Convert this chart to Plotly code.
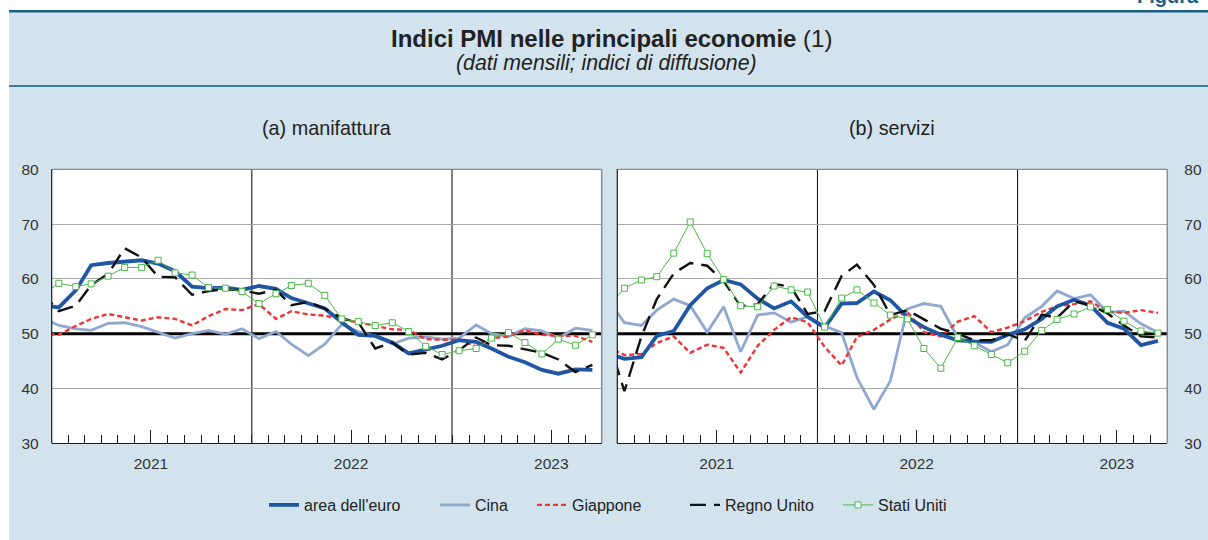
import pandas as pd
import plotly.graph_objects as go

W, H = 1208, 540

# ---------------- data (Dec 2020 .. Sep 2023, monthly) ----------------
months = pd.date_range("2020-12-01", "2023-09-01", freq="MS") + pd.Timedelta(days=13)

# (a) manifattura
euro_man = [55.2, 54.8, 57.9, 62.5, 62.9, 63.1, 63.4, 62.8, 61.4, 58.6, 58.3, 58.4, 58.0,
            58.7, 58.2, 56.5, 55.5, 54.6, 52.1, 49.8, 49.6, 48.4, 46.4, 47.1, 47.8,
            48.8, 48.5, 47.3, 45.8, 44.8, 43.4, 42.7, 43.5, 43.4]
cina_man = [53.0, 51.5, 50.9, 50.6, 51.9, 52.0, 51.3, 50.3, 49.2, 50.0, 50.6, 49.9, 50.9,
            49.1, 50.4, 48.1, 46.0, 48.1, 51.7, 50.4, 49.5, 48.1, 49.2, 49.4, 49.0,
            49.2, 51.6, 50.0, 49.5, 50.9, 50.5, 49.2, 51.0, 50.6]
giap_man = [50.0, 49.8, 51.4, 52.7, 53.6, 53.0, 52.4, 53.0, 52.7, 51.5, 53.2, 54.5, 54.3,
            55.4, 52.7, 54.1, 53.5, 53.3, 52.7, 52.1, 51.5, 50.8, 50.7, 49.0, 48.9,
            48.9, 47.7, 49.2, 49.5, 50.6, 49.8, 49.6, 49.6, 48.5]
uk_man = [57.5, 54.1, 55.1, 58.9, 60.9, 65.6, 63.9, 60.4, 60.3, 57.1, 57.8, 58.1, 57.9,
          57.3, 58.0, 55.2, 55.8, 54.6, 52.8, 52.1, 47.3, 48.4, 46.2, 46.5, 45.3,
          47.0, 49.3, 47.9, 47.8, 47.1, 46.5, 45.3, 43.0, 44.3]
usa_man = [57.1, 59.2, 58.6, 59.1, 60.5, 62.1, 62.1, 63.4, 61.1, 60.7, 58.4, 58.3, 57.7,
           55.5, 57.3, 58.8, 59.2, 57.0, 52.7, 52.2, 51.5, 52.0, 50.4, 47.7, 46.2,
           46.9, 47.3, 49.2, 50.2, 48.4, 46.3, 49.0, 47.9, 49.8]

# (b) servizi
euro_ser = [46.4, 45.4, 45.7, 49.6, 50.5, 55.2, 58.3, 59.8, 59.0, 56.4, 54.6, 55.9, 53.1,
            51.1, 55.5, 55.6, 57.7, 56.1, 53.0, 51.2, 49.8, 48.8, 48.6, 48.5, 49.8,
            50.8, 52.7, 55.0, 56.2, 55.1, 52.0, 50.9, 47.9, 48.7]
cina_ser = [56.3, 52.0, 51.5, 54.3, 56.3, 55.1, 50.3, 54.9, 46.7, 53.4, 53.8, 52.1, 53.1,
            51.4, 50.2, 42.0, 36.2, 41.4, 54.5, 55.5, 55.0, 49.3, 48.4, 46.7, 48.0,
            52.9, 55.0, 57.8, 56.4, 57.1, 53.9, 54.1, 51.8, 50.2]
giap_ser = [47.7, 46.1, 46.3, 48.3, 49.5, 46.5, 48.0, 47.4, 42.9, 47.8, 50.7, 53.0, 52.1,
            47.6, 44.2, 49.4, 50.7, 52.6, 54.0, 50.3, 49.5, 52.2, 53.2, 50.3, 51.1,
            52.3, 54.0, 55.0, 55.4, 55.9, 54.0, 53.8, 54.3, 53.8]
uk_ser = [49.4, 39.5, 49.5, 56.3, 61.0, 62.9, 62.4, 59.6, 55.0, 55.4, 59.1, 58.5, 53.6,
          54.1, 60.5, 62.6, 58.9, 53.4, 54.3, 52.6, 50.9, 50.0, 48.8, 48.8, 49.9,
          48.7, 53.5, 52.9, 55.9, 55.2, 53.7, 51.5, 49.5, 49.3]
usa_ser = [54.8, 58.3, 59.8, 60.4, 64.7, 70.4, 64.6, 59.9, 55.1, 54.9, 58.7, 58.0, 57.6,
           51.2, 56.5, 58.0, 55.6, 53.4, 52.7, 47.3, 43.7, 49.3, 47.8, 46.2, 44.7,
           46.8, 50.6, 52.6, 53.6, 54.9, 54.4, 52.3, 50.5, 50.1]

series_names = ["area dell'euro", "Cina", "Giappone", "Regno Unito", "Stati Uniti"]
panel_titles = ["(a) manifattura", "(b) servizi"]
year_labels = ["2021", "2022", "2023"]
year_mid = ["2021-07-01", "2022-07-01", "2023-07-01"]
year_bounds = ["2022-01-01", "2023-01-01"]
y_ticks = [30, 40, 50, 60, 70, 80]
y_grid = [40, 60, 70, 80]

panels = [
    {"euro": euro_man, "cina": cina_man, "giap": giap_man, "uk": uk_man, "usa": usa_man},
    {"euro": euro_ser, "cina": cina_ser, "giap": giap_ser, "uk": uk_ser, "usa": usa_ser},
]

# ---------------- styles ----------------
FONT = "Liberation Sans, Arial, Helvetica, sans-serif"
BG = "#D2E3EE"
TXT = "#222222"
C_EURO = "#1F57A4"
C_CINA = "#8EA8CF"
C_GIAP = "#EE3535"
C_UK = "#111111"
C_USA = "#4CB848"

styles = {
    "cina": dict(name=series_names[1], line=dict(color=C_CINA, width=2.8), mode="lines", legend="legend2"),
    "giap": dict(name=series_names[2], line=dict(color=C_GIAP, width=2.4, dash="5px,3px"), mode="lines", legend="legend3"),
    "euro": dict(name=series_names[0], line=dict(color=C_EURO, width=3.8), mode="lines", legend="legend"),
    "uk": dict(name=series_names[3], line=dict(color=C_UK, width=2.4, dash="16px,8px"), mode="lines", legend="legend4"),
    "usa": dict(name=series_names[4], line=dict(color=C_USA, width=1),
                mode="lines+markers",
                marker=dict(symbol="square", size=6, color="white", line=dict(color=C_USA, width=1)),
                legend="legend5"),
}
draw_order = ["cina", "giap", "euro", "uk", "usa"]

fig = go.Figure()

xdom = [[51.7 / W, 601.7 / W], [617.3 / W, 1167.3 / W]]
ydom = [(H - 443.3) / H, (H - 169.3) / H]

for p, data in enumerate(panels):
    xa = "x" if p == 0 else "x2"
    ya = "y" if p == 0 else "y2"
    for key in draw_order:
        st = dict(styles[key])
        fig.add_trace(go.Scatter(x=months, y=data[key], xaxis=xa, yaxis=ya,
                                 showlegend=(p == 0), hoverinfo="skip", **st))

axis_common_x = dict(
    type="date", range=["2021-01-01", "2023-10-01"],
    tickmode="array", tickvals=year_mid, ticktext=year_labels,
    ticks="inside", ticklen=13, tickwidth=1, tickcolor="#1a1a1a",
    showgrid=False, zeroline=False,
    showline=True, linecolor="#1a1a1a", linewidth=1,
    minor=dict(tickmode="linear", tick0="2021-01-01", dtick="M1", ticks="inside",
               ticklen=8, tickwidth=1, tickcolor="#1a1a1a", showgrid=False),
    tickfont=dict(family=FONT, size=15.5, color="#333333"),
    ticklabelstandoff=6, fixedrange=True, automargin=False,
)
axis_common_y = dict(
    range=[30, 80], tickmode="array", tickvals=y_ticks,
    ticks="", showgrid=False,
    minor=dict(tickmode="array", tickvals=y_grid, ticks="", showgrid=True,
               gridcolor="#A9A9A9", gridwidth=1),
    zeroline=False, showline=False,
    tickfont=dict(family=FONT, size=15.5, color="#333333"), fixedrange=True,
    automargin=False,
)

fig.update_layout(
    xaxis=dict(domain=xdom[0], anchor="y", **axis_common_x),
    xaxis2=dict(domain=xdom[1], anchor="y2", **axis_common_x),
    yaxis=dict(domain=ydom, anchor="x", side="left", ticklabelstandoff=12, **axis_common_y),
    yaxis2=dict(domain=ydom, anchor="x2", side="right", ticklabelstandoff=16, **axis_common_y),
)

shapes = []
def px(x):
    return x / W
def py(y):
    return (H - y) / H

# white margins and header rules (paper pixels)
shapes.append(dict(type="rect", xref="paper", yref="paper", x0=0, x1=px(9), y0=0, y1=1,
                   fillcolor="white", line=dict(width=0), layer="below"))
shapes.append(dict(type="rect", xref="paper", yref="paper", x0=0, x1=1, y0=py(10), y1=1,
                   fillcolor="white", line=dict(width=0), layer="below"))
shapes.append(dict(type="line", xref="paper", yref="paper", x0=px(9), x1=1, y0=py(11.3), y1=py(11.3),
                   line=dict(color="#1C5F86", width=2.6)))
shapes.append(dict(type="line", xref="paper", yref="paper", x0=px(9), x1=1, y0=py(86), y1=py(86),
                   line=dict(color="#3C7DA2", width=1.8)))

for p in range(2):
    xd = "x domain" if p == 0 else "x2 domain"
    yd = "y domain" if p == 0 else "y2 domain"
    xr = "x" if p == 0 else "x2"
    yr = "y" if p == 0 else "y2"
    shapes.append(dict(type="line", xref=xr, yref=yr, x0="2021-01-01", x1="2023-10-01", y0=50, y1=50,
                       line=dict(color="black", width=3), layer="below"))
    for yb in year_bounds:
        shapes.append(dict(type="line", xref=xr, yref=yr, x0=yb, x1=yb, y0=30, y1=80,
                           line=dict(color="black", width=1), layer="below"))
    shapes.append(dict(type="line", xref=xd, yref=yd, x0=0, x1=1, y0=1, y1=1,
                       line=dict(color="#8C8C8C", width=1.2)))
    shapes.append(dict(type="line", xref=xd, yref=yd, x0=1, x1=1, y0=0, y1=1,
                       line=dict(color="#8C8C8C", width=1.5)))
    shapes.append(dict(type="line", xref=xd, yref=yd, x0=0, x1=0, y0=0, y1=1,
                       line=dict(color="#1a1a1a", width=1.2)))

annotations = [
    dict(text="<b>Indici PMI nelle principali economie</b> (1)", x=px(611.7), y=py(38),
         xref="paper", yref="paper", xanchor="center", yanchor="middle", showarrow=False,
         font=dict(family=FONT, size=24, color=TXT)),
    dict(text="<i>(dati mensili; indici di diffusione)</i>", x=px(606.8), y=py(63),
         xref="paper", yref="paper", xanchor="center", yanchor="middle", showarrow=False,
         font=dict(family=FONT, size=21.3, color=TXT)),
    dict(text="<b>Figura</b>", x=px(1201), y=py(9), xref="paper", yref="paper",
         xanchor="right", yanchor="bottom", showarrow=False,
         font=dict(family=FONT, size=20, color="#1C5F86")),
    dict(text=panel_titles[0], x=px(326.7), y=py(128), xref="paper", yref="paper",
         xanchor="center", yanchor="middle", showarrow=False,
         font=dict(family=FONT, size=19.8, color=TXT)),
    dict(text=panel_titles[1], x=px(892.3), y=py(128), xref="paper", yref="paper",
         xanchor="center", yanchor="middle", showarrow=False,
         font=dict(family=FONT, size=19.8, color=TXT)),
]

leg_text_x = [306, 477, 574, 727, 880]
leg_common = dict(orientation="h", yanchor="middle", y=py(505), xanchor="left",
                  bgcolor="rgba(0,0,0,0)", borderwidth=0, itemwidth=30,
                  font=dict(family=FONT, size=16, color=TXT))
legends = {}
for i, key in enumerate(["legend", "legend2", "legend3", "legend4", "legend5"]):
    legends[key] = dict(x=px(leg_text_x[i] - 42), **leg_common)

fig.update_layout(
    width=W, height=H, autosize=False,
    margin=dict(l=0, r=0, t=0, b=0, pad=0, autoexpand=False),
    paper_bgcolor=BG, plot_bgcolor="white",
    font=dict(family=FONT, color=TXT),
    shapes=shapes, annotations=annotations,
    **legends,
)

fig.write_html(
    "out.html",
    config={"displayModeBar": False},
    post_script="document.body.style.margin='0';document.body.style.overflow='hidden';",
)
